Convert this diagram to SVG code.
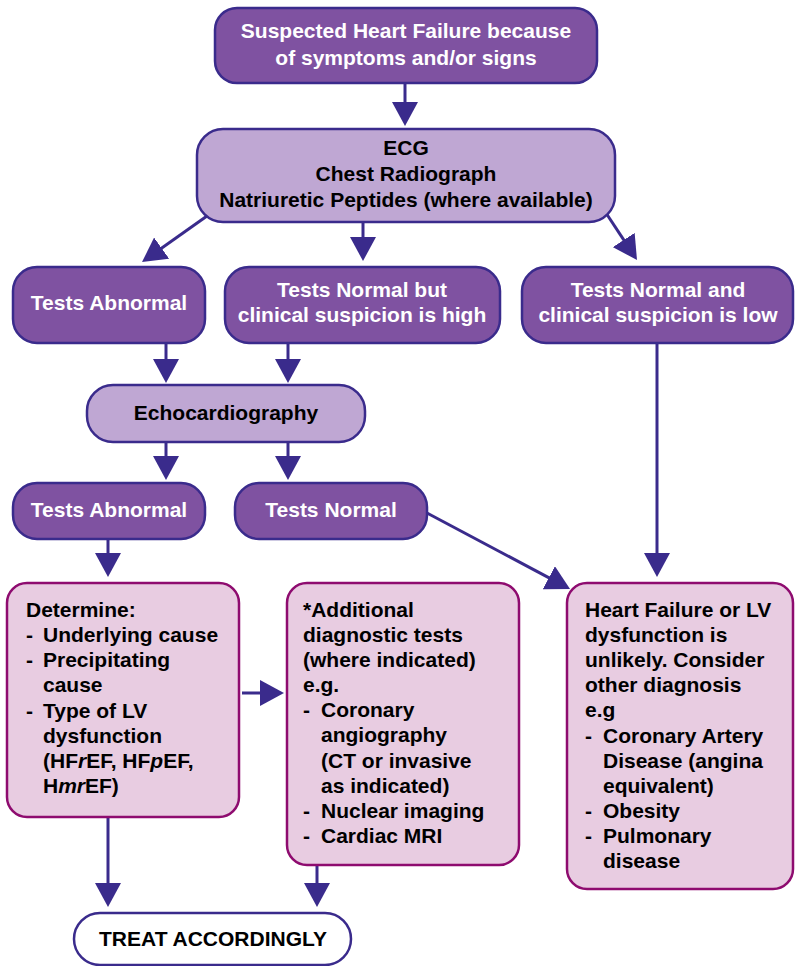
<svg xmlns="http://www.w3.org/2000/svg" width="795" height="966" viewBox="0 0 795 966">
<style>
text{font-family:"Liberation Sans",Arial,sans-serif;font-weight:bold;font-size:21px}
.dk{fill:#7F52A1;stroke:#3A2B8C;stroke-width:2.5}
.lt{fill:#BFA7D3;stroke:#3A2B8C;stroke-width:2.5}
.pk{fill:#E8CCE1;stroke:#8E0B6F;stroke-width:2.5}
.wh{fill:#FFFFFF;stroke:#3A2B8C;stroke-width:2.5}
.w{fill:#FFFFFF;text-anchor:middle}
.b{fill:#000000;text-anchor:middle}
.l{fill:#000000}
.c{stroke:#3A2B8C;stroke-width:3;fill:none;marker-end:url(#ah)}
</style>
<defs>
<marker id="ah" viewBox="0 0 24 26" refX="20" refY="13" markerWidth="24" markerHeight="26" markerUnits="userSpaceOnUse" orient="auto">
<path d="M0,0 L24,13 L0,26 Z" fill="#3A2B8C"/>
</marker>
</defs>
<g id="connectors">
<line class="c" x1="405" y1="83" x2="405" y2="122"/>
<line class="c" x1="207" y1="216" x2="145.3" y2="259.7"/>
<line class="c" x1="363" y1="222" x2="363" y2="257"/>
<line class="c" x1="606" y1="213" x2="634.8" y2="256.7"/>
<line class="c" x1="166" y1="343" x2="166" y2="379"/>
<line class="c" x1="288" y1="343" x2="288" y2="379"/>
<line class="c" x1="166" y1="442" x2="166" y2="476"/>
<line class="c" x1="288" y1="442" x2="288" y2="476"/>
<line class="c" x1="108" y1="539" x2="108" y2="573"/>
<line class="c" x1="657" y1="343" x2="657" y2="573"/>
<line class="c" x1="427" y1="513" x2="566.5" y2="587.1"/>
<line class="c" x1="242" y1="693" x2="280" y2="693"/>
<line class="c" x1="108" y1="817" x2="108" y2="903"/>
<line class="c" x1="317" y1="865" x2="317" y2="903"/>
</g>
<g id="suspected">
<rect class="dk" x="215" y="8" width="382" height="75" rx="22"/>
<text class="w" x="406" y="38">Suspected Heart Failure because</text>
<text class="w" x="406" y="65">of symptoms and/or signs</text>
</g>
<g id="tests">
<rect class="lt" x="197" y="129" width="418" height="93" rx="26"/>
<text class="b" x="406" y="155">ECG</text>
<text class="b" x="406" y="181">Chest Radiograph</text>
<text class="b" x="406" y="207">Natriuretic Peptides (where available)</text>
</g>
<g id="abnormal1">
<rect class="dk" x="13" y="267" width="192" height="76" rx="24"/>
<text class="w" x="109" y="310">Tests Abnormal</text>
</g>
<g id="normalHigh">
<rect class="dk" x="225" y="267" width="275" height="76" rx="24"/>
<text class="w" x="362" y="297">Tests Normal but</text>
<text class="w" x="362" y="322">clinical suspicion is high</text>
</g>
<g id="normalLow">
<rect class="dk" x="522" y="267" width="271" height="76" rx="24"/>
<text class="w" x="658" y="297">Tests Normal and</text>
<text class="w" x="658" y="322">clinical suspicion is low</text>
</g>
<g id="echo">
<rect class="lt" x="87" y="385" width="278" height="57" rx="26"/>
<text class="b" x="226" y="420">Echocardiography</text>
</g>
<g id="abnormal2">
<rect class="dk" x="13" y="483" width="192" height="56" rx="24"/>
<text class="w" x="109" y="517">Tests Abnormal</text>
</g>
<g id="normal2">
<rect class="dk" x="235" y="483" width="192" height="56" rx="24"/>
<text class="w" x="331" y="517">Tests Normal</text>
</g>
<g id="determine">
<rect class="pk" x="7" y="583" width="232" height="234" rx="20"/>
<text class="l" x="26" y="617">Determine:</text>
<text class="l" x="26" y="642">-</text><text class="l" x="43" y="642">Underlying cause</text>
<text class="l" x="26" y="667">-</text><text class="l" x="43" y="667">Precipitating</text>
<text class="l" x="43" y="692">cause</text>
<text class="l" x="26" y="718">-</text><text class="l" x="43" y="718">Type of LV</text>
<text class="l" x="43" y="743">dysfunction</text>
<text class="l" x="43" y="768">(HF<tspan font-style="italic">r</tspan>EF, HF<tspan font-style="italic">p</tspan>EF,</text>
<text class="l" x="43" y="793">H<tspan font-style="italic">mr</tspan>EF)</text>
</g>
<g id="additional">
<rect class="pk" x="287" y="583" width="232" height="282" rx="20"/>
<text class="l" x="303" y="617">*Additional</text>
<text class="l" x="303" y="642">diagnostic tests</text>
<text class="l" x="303" y="667">(where indicated)</text>
<text class="l" x="303" y="692">e.g.</text>
<text class="l" x="303" y="717">-</text><text class="l" x="321" y="717">Coronary</text>
<text class="l" x="321" y="742">angiography</text>
<text class="l" x="321" y="768">(CT or invasive</text>
<text class="l" x="321" y="793">as indicated)</text>
<text class="l" x="303" y="818">-</text><text class="l" x="321" y="818">Nuclear imaging</text>
<text class="l" x="303" y="843">-</text><text class="l" x="321" y="843">Cardiac MRI</text>
</g>
<g id="unlikely">
<rect class="pk" x="567" y="583" width="226" height="306" rx="20"/>
<text class="l" x="585" y="617">Heart Failure or LV</text>
<text class="l" x="585" y="642">dysfunction is</text>
<text class="l" x="585" y="667">unlikely. Consider</text>
<text class="l" x="585" y="692">other diagnosis</text>
<text class="l" x="585" y="717">e.g</text>
<text class="l" x="585" y="743">-</text><text class="l" x="603" y="743">Coronary Artery</text>
<text class="l" x="603" y="768">Disease (angina</text>
<text class="l" x="603" y="793">equivalent)</text>
<text class="l" x="585" y="818">-</text><text class="l" x="603" y="818">Obesity</text>
<text class="l" x="585" y="843">-</text><text class="l" x="603" y="843">Pulmonary</text>
<text class="l" x="603" y="868">disease</text>
</g>
<g id="treat">
<rect class="wh" x="74" y="913" width="277" height="52" rx="26"/>
<text class="b" x="213" y="946">TREAT ACCORDINGLY</text>
</g>
</svg>
